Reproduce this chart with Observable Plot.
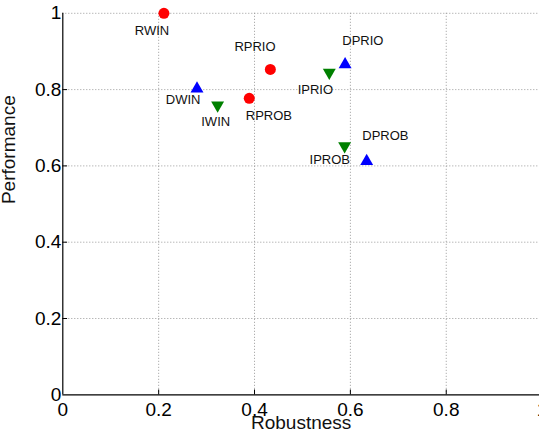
<!DOCTYPE html>
<html>
<head>
<meta charset="utf-8">
<script src="https://cdn.jsdelivr.net/npm/d3@7"></script>
<script src="https://cdn.jsdelivr.net/npm/@observablehq/plot@0.6"></script>
<style>
  html, body { margin: 0; padding: 0; background: #fff; }
  #chart svg { display: block; }
</style>
</head>
<body>
<div id="chart"></div>
<script>
// ---- data ----
const names = ["RWIN", "RPRIO", "RPROB", "DWIN", "DPRIO", "DPROB", "IWIN", "IPRIO", "IPROB"];
const groups = ["R", "R", "R", "D", "D", "D", "I", "I", "I"];
const robustness = [0.211, 0.433, 0.389, 0.280, 0.589, 0.634, 0.323, 0.556, 0.588];
const performance = [1.000, 0.853, 0.777, 0.802, 0.866, 0.612, 0.759, 0.845, 0.652];
// label anchor positions (data units, as placed in the original figure)
const labelX = [0.186, 0.401, 0.430, 0.251, 0.626, 0.673, 0.319, 0.527, 0.557];
const labelY = [0.955, 0.911, 0.730, 0.774, 0.929, 0.678, 0.715, 0.800, 0.616];

const xTicks = [0, 0.2, 0.4, 0.6, 0.8, 1];
const xTickLabels = ["0", "0.2", "0.4", "0.6", "0.8", "1"];
const yTicks = [0, 0.2, 0.4, 0.6, 0.8, 1];
const yTickLabels = ["0", "0.2", "0.4", "0.6", "0.8", "1"];
const xGrid = [0.2, 0.4, 0.6, 0.8, 1];
const yGrid = [0.2, 0.4, 0.6, 0.8, 1];
const innerXTicks = [0.2, 0.4, 0.6, 0.8];
const innerYTicks = [0.2, 0.4, 0.6, 0.8];

const xTitle = "Robustness";
const yTitle = "Performance";

// ---- styling ----
const groupColor = { R: "#ff0000", D: "#0000ff", I: "#008000" };
const groupSymbol = { R: "circle", D: "triangle", I: "triangle" };
const groupRotate = { R: 0, D: 0, I: 180 };

const points = names.map((name, i) => ({
  name, group: groups[i], x: robustness[i], y: performance[i], lx: labelX[i], ly: labelY[i]
}));
const circles = points.filter(d => d.group === "R");
const tris = points.filter(d => d.group !== "R");

const font = "'Liberation Sans', Arial, Helvetica, sans-serif";
const gridStyle = { stroke: "#9a9a9a", strokeOpacity: 1, strokeWidth: 1, strokeDasharray: "1,2" };

const chart = Plot.plot({
  width: 539,
  height: 436,
  marginLeft: 62.3,
  marginTop: 12.8,
  marginBottom: 41.7,
  marginRight: 0,
  style: { fontFamily: font, background: "#fff", color: "#000", overflow: "hidden" },
  x: { domain: [0, 1], range: [62.3, 541.6] },
  y: { domain: [0, 1] },
  marks: [
    Plot.ruleX(xGrid, gridStyle),
    Plot.ruleY(yGrid, gridStyle),
    Plot.ruleX([0], { y1: 0, y2: 1, stroke: "#000", strokeWidth: 1.2 }),
    Plot.ruleY([0], { stroke: "#000", strokeWidth: 1.2 }),
    Plot.ruleX(innerXTicks, { y1: 0, y2: 0.0126, stroke: "#000" }),
    Plot.ruleY(innerYTicks, { x1: 0, x2: 0.01, stroke: "#000" }),
    Plot.axisX(xTicks, {
      tickSize: 0, tickPadding: 8, fontSize: 19, label: null,
      tickFormat: d => xTickLabels[xTicks.indexOf(d)]
    }),
    Plot.axisY(yTicks, {
      tickSize: 0, tickPadding: 1.5, fontSize: 19, label: null,
      tickFormat: d => yTickLabels[yTicks.indexOf(d)]
    }),
    Plot.dot(circles, {
      x: "x", y: "y", r: 5.5, symbol: "circle",
      fill: d => groupColor[d.group], stroke: "none"
    }),
    Plot.dot(tris, {
      x: "x", y: "y", r: 4.8, symbol: "triangle",
      rotate: d => groupRotate[d.group],
      fill: d => groupColor[d.group], stroke: "none"
    }),
    Plot.text(points, {
      x: "lx", y: "ly", text: "name", fontSize: 13, fill: "#111"
    }),
    Plot.text([xTitle], { frameAnchor: "bottom", dy: 34.5, fontSize: 19, fill: "#111" }),
    Plot.text([yTitle], { frameAnchor: "left", dx: -53.4, rotate: -90, fontSize: 19, fill: "#111" })
  ]
});

document.getElementById("chart").appendChild(chart);
</script>
</body>
</html>
